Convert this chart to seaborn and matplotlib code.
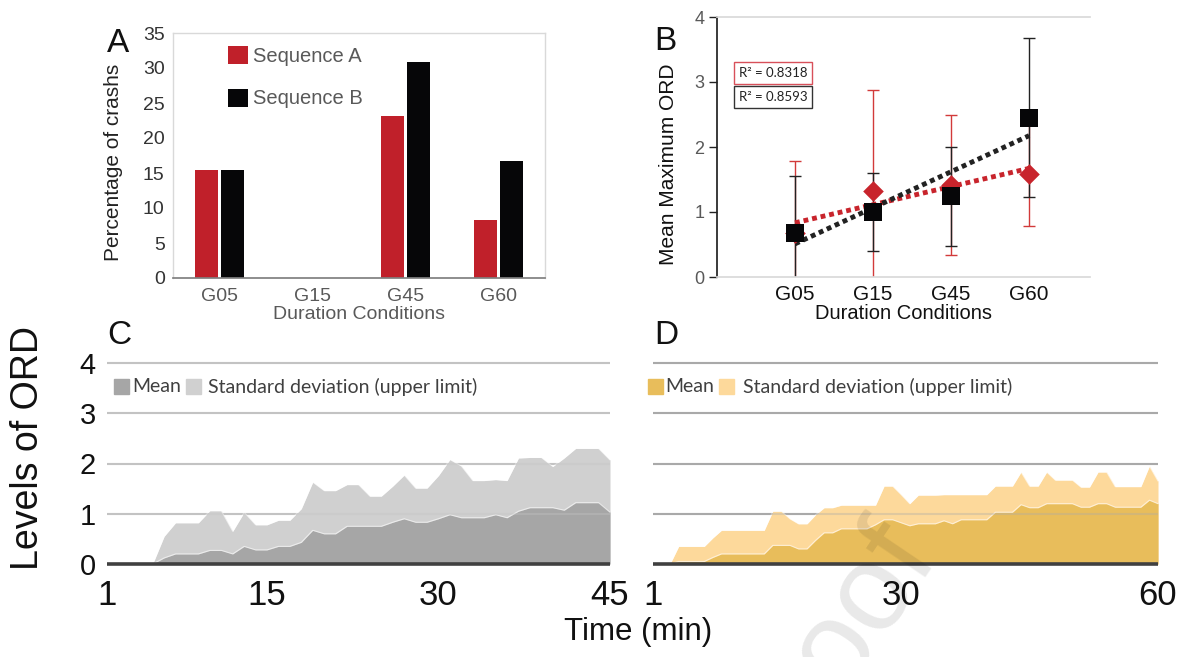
import numpy as np
import pandas as pd
import matplotlib
matplotlib.use("Agg")
import matplotlib.pyplot as plt
import seaborn as sns

sns.set_theme(style="white")
plt.rcParams['font.family'] = ['Liberation Sans', 'DejaVu Sans']

# --- data -------------------------------------------------------------
conditions = ["G05", "G15", "G45", "G60"]
crash_seq_a = [15.4, 0, 23.1, 8.3]
crash_seq_b = [15.4, 0, 30.8, 16.7]

ord_mean_a = [0.68, 1.33, 1.42, 1.58]
ord_sd_a = [1.11, 1.55, 1.08, 0.80]
ord_mean_b = [0.68, 1.00, 1.24, 2.45]
ord_sd_b = [0.87, 0.60, 0.76, 1.22]
r2_labels = ["R² = 0.8318", "R² = 0.8593"]

time_c = list(range(1, 46))
mean_c = [0, 0, 0, 0, 0, 0.12, 0.2, 0.2, 0.2, 0.27, 0.27, 0.2, 0.35, 0.28, 0.28,
          0.35, 0.35, 0.43, 0.67, 0.6, 0.6, 0.75, 0.75, 0.75, 0.75, 0.83, 0.9, 0.83,
          0.83, 0.9, 0.98, 0.92, 0.92, 0.92, 0.98, 0.92, 1.05, 1.12, 1.12, 1.12,
          1.07, 1.22, 1.22, 1.22, 1.03]
sd_c = [0, 0, 0, 0, 0, 0.55, 0.82, 0.82, 0.82, 1.06, 1.06, 0.65, 1.03, 0.78, 0.78,
        0.87, 0.87, 1.1, 1.63, 1.46, 1.46, 1.58, 1.58, 1.35, 1.35, 1.55, 1.77, 1.51,
        1.51, 1.76, 2.08, 1.95, 1.66, 1.66, 1.68, 1.66, 2.11, 2.12, 2.12, 1.94,
        2.11, 2.3, 2.3, 2.3, 2.07]

time_d = list(range(1, 61))
mean_d = [0, 0, 0, 0.05, 0.05, 0.05, 0.05, 0.13, 0.2, 0.2, 0.2, 0.2, 0.2, 0.2, 0.37,
          0.37, 0.37, 0.3, 0.3, 0.47, 0.62, 0.62, 0.7, 0.7, 0.7, 0.7, 0.78, 0.88, 0.88,
          0.82, 0.76, 0.8, 0.8, 0.8, 0.86, 0.8, 0.88, 0.88, 0.88, 0.88, 1.03, 1.03,
          1.03, 1.18, 1.12, 1.12, 1.2, 1.2, 1.2, 1.2, 1.13, 1.13, 1.2, 1.2, 1.13,
          1.13, 1.13, 1.13, 1.27, 1.2]
sd_d = [0, 0, 0, 0.35, 0.35, 0.35, 0.35, 0.52, 0.67, 0.67, 0.67, 0.67, 0.67, 0.67,
        1.05, 1.05, 0.9, 0.8, 0.8, 0.98, 1.12, 1.12, 1.17, 1.17, 1.17, 1.17, 1.17,
        1.55, 1.55, 1.38, 1.2, 1.37, 1.37, 1.37, 1.38, 1.38, 1.38, 1.38, 1.38, 1.38,
        1.55, 1.55, 1.55, 1.83, 1.55, 1.55, 1.83, 1.67, 1.67, 1.67, 1.53, 1.53, 1.83,
        1.83, 1.54, 1.54, 1.54, 1.54, 1.95, 1.65]

RED = "#c0202a"
BLACK = "#060608"
W, H = 1179, 657


def rect(l, t, r, b):
    return [l / W, 1 - b / H, (r - l) / W, (b - t) / H]


def px(x, y):
    return x / W, 1 - y / H


fig = plt.figure(figsize=(W / 100, H / 100), dpi=100)

# --- A: crash percentages ---------------------------------------------
axA = fig.add_axes(rect(173, 33, 545, 278))
crash_df = pd.DataFrame({
    "cond": conditions * 2,
    "pct": crash_seq_a + crash_seq_b,
    "seq": ["Sequence A"] * 4 + ["Sequence B"] * 4,
})
sns.barplot(data=crash_df, x="cond", y="pct", hue="seq", palette=[RED, BLACK],
            saturation=1, width=0.56, gap=0.15, linewidth=0, ax=axA)
axA.set_ylim(0, 35)
axA.set_yticks(range(0, 36, 5))
axA.set_xlim(-0.5, 3.5)
axA.tick_params(axis="y", labelsize=14, colors="#333333", length=0, pad=6)
axA.tick_params(axis="x", labelsize=14, colors="#595959", length=0, pad=7)
axA.set_xlabel("Duration Conditions", fontsize=14, color="#595959", labelpad=1)
axA.set_ylabel("Percentage of crashs", fontsize=15, color="#222222")
axA.yaxis.set_label_coords(-0.135, 0.47)
for side in ["left", "top", "right"]:
    axA.spines[side].set_color("#d9d9d9")
    axA.spines[side].set_linewidth(1)
axA.spines["bottom"].set_color("#808080")
axA.legend(loc="upper left", bbox_to_anchor=(0.148, 0.945), frameon=False,
           fontsize=14.5, labelcolor="#595959", handlelength=1.0, handleheight=1.0,
           handletextpad=0.25, labelspacing=1.1, borderpad=0, borderaxespad=0)

# --- B: mean maximum ORD ----------------------------------------------
axB = fig.add_axes(rect(717, 17, 1090, 277))
xpos = np.arange(1, 5)
axB.errorbar(xpos, ord_mean_a, yerr=ord_sd_a, fmt="none", ecolor="#d23a3a",
             elinewidth=1, capsize=4, capthick=1, zorder=2)
axB.errorbar(xpos, ord_mean_b, yerr=ord_sd_b, fmt="none", ecolor="#222222",
             elinewidth=1, capsize=4, capthick=1, zorder=2)
ord_df = pd.DataFrame({"x": np.concatenate([xpos, xpos]),
                       "y": ord_mean_a + ord_mean_b,
                       "seq": ["A"] * 4 + ["B"] * 4})
sns.scatterplot(data=ord_df[ord_df.seq == "A"], x="x", y="y", marker="D", s=110,
                color="#c8242c", linewidth=0, ax=axB, zorder=4)
sns.scatterplot(data=ord_df[ord_df.seq == "B"], x="x", y="y", marker="s", s=150,
                color=BLACK, linewidth=0, ax=axB, zorder=5)
sns.regplot(x=xpos, y=ord_mean_a, scatter=False, ci=None, ax=axB,
            line_kws=dict(color="#c8242c", lw=3.5, ls=(0, (1, 0.8)), zorder=3))
sns.regplot(x=xpos, y=ord_mean_b, scatter=False, ci=None, ax=axB,
            line_kws=dict(color="#222222", lw=3.5, ls=(0, (1, 0.8)), zorder=3))
axB.set_xlim(0, 4.78)
axB.set_ylim(0, 4)
axB.set_xticks(xpos)
axB.set_xticklabels(conditions)
axB.set_yticks(range(5))
axB.tick_params(axis="x", labelsize=15, colors="#111111", length=0, pad=6)
axB.tick_params(axis="y", labelsize=13, labelcolor="#595959", color="#222222",
                direction="out", length=6, width=1, left=True, pad=3)
axB.set_xlabel("Duration Conditions", fontsize=14.5, color="#111111", labelpad=0)
axB.set_ylabel("Mean Maximum ORD", fontsize=15, color="#111111")
axB.yaxis.set_label_coords(-0.105, 0.435)
axB.spines["left"].set_color("#222222")
axB.spines["top"].set_color("#d9d9d9")
axB.spines["bottom"].set_color("#d9d9d9")
axB.spines["right"].set_visible(False)

for label, y, edge in [(r2_labels[0], 73, "#d8505a"), (r2_labels[1], 97, "#333333")]:
    fig.text(*px(773, y), label, ha="center", va="center", fontsize=9.5,
             family=["Lato", "DejaVu Sans"], color="#222222",
             bbox=dict(boxstyle="square,pad=0.35", fc="white", ec=edge, lw=1))

# --- C and D: ORD over time --------------------------------------------
def area_panel(ax, t, mean, sd, c_mean, c_sd, grid_col, xticks):
    for lev in range(1, 5):
        ax.axhline(lev, color=grid_col, lw=1.5, zorder=0)
    ax.fill_between(t, 0, sd, color=c_sd, lw=0, zorder=1)
    ax.fill_between(t, 0, mean, color=c_mean, lw=0, zorder=2)
    sns.lineplot(x=t, y=sd, color="white", lw=0.8, alpha=0.6, ax=ax, zorder=3)
    sns.lineplot(x=t, y=mean, color="white", lw=0.8, alpha=0.6, ax=ax, zorder=3)
    for lev in range(1, 5):
        ax.axhline(lev, color=grid_col, lw=1.5, alpha=0.35, zorder=4)
    ax.axhline(0, color="#404040", lw=2.6, zorder=5)
    ax.set_xlim(t[0], t[-1])
    ax.set_ylim(-0.05, 4.05)
    ax.set_xticks(xticks)
    ax.tick_params(axis="x", length=0, pad=9, labelsize=25, labelcolor="#111111")
    sns.despine(ax=ax, left=True, bottom=True)
    ax.set_facecolor("none")


axC = fig.add_axes(rect(107, 360.5, 610, 566.5))
area_panel(axC, time_c, mean_c, sd_c, "#a6a6a6", "#d0d0d0", "#c3c3c3", [1, 15, 30, 45])
axC.set_yticks(range(5))
axC.tick_params(axis="y", length=0, pad=8, labelsize=21, labelcolor="#111111")

axD = fig.add_axes(rect(653, 360.5, 1158, 566.5))
area_panel(axD, time_d, mean_d, sd_d, "#e8bd5b", "#fdd99b", "#a9a9a9", [1, 30, 60])
axD.set_yticks([])

# legends of C and D
leg_font = ["Lato", "DejaVu Sans"]
for x0, c_mean, c_sd, txt_x in [(114, "#a6a6a6", "#d0d0d0", (132, 208)),
                                 (648, "#e8bd5b", "#fdd99b", (665, 743))]:
    fig.patches.append(plt.Rectangle(px(x0, 394), 15 / W, 15 / H, color=c_mean,
                                     transform=fig.transFigure, figure=fig))
    fig.patches.append(plt.Rectangle(px(txt_x[0] + 54, 394), 15 / W, 15 / H, color=c_sd,
                                     transform=fig.transFigure, figure=fig))
    fig.text(*px(txt_x[0], 387), "Mean", fontsize=14, family=leg_font,
             color="#404040", va="center", ha="left")
    fig.text(*px(txt_x[1], 387), "Standard deviation (upper limit)", fontsize=14,
             family=leg_font, color="#404040", va="center", ha="left")

# panel letters and shared labels
for letter, x, y in [("A", 107, 52), ("B", 654, 50), ("C", 107, 344), ("D", 654, 344)]:
    fig.text(*px(x, y), letter, fontsize=24, color="#111111", ha="left", va="baseline")
fig.text(*px(28, 448), "Levels of ORD", rotation=90, fontsize=27, color="#111111",
         ha="center", va="center")
fig.text(*px(638, 632), "Time (min)", fontsize=22.5, color="#111111",
         ha="center", va="center")

# faint watermark
fig.text(*px(940, 558), "Journal Pre-proof", fontsize=88, color="black", alpha=0.09,
         rotation=56, rotation_mode="anchor", ha="right", va="baseline", zorder=20)

fig.savefig("out.png", dpi=100)
